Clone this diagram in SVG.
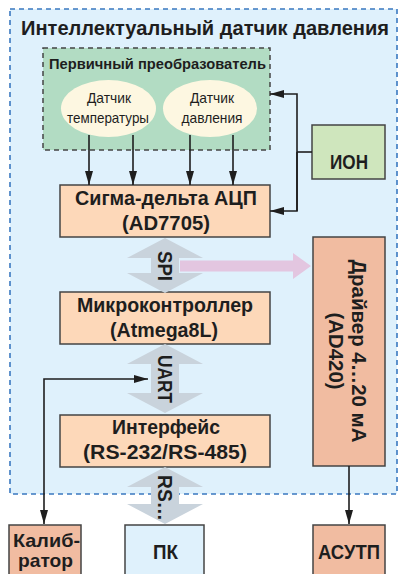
<svg xmlns="http://www.w3.org/2000/svg" width="398" height="574" viewBox="0 0 398 574">
<defs>
<marker id="ah" viewBox="0 0 14 8" refX="14" refY="4" markerWidth="14" markerHeight="8" markerUnits="userSpaceOnUse" orient="auto-start-reverse">
<path d="M0,0 L14,4 L0,8 Z" fill="#1e1e1e"/>
</marker>
<style>
.t{font-family:"Liberation Sans",Arial,sans-serif;fill:#1e1e1e;}
.b{font-weight:bold;}
.box{stroke:#444;stroke-width:1.5;}
.peach{fill:#fdd8b9;}
.salmon{fill:#f1bca1;}
.ln{fill:none;stroke:#1e1e1e;stroke-width:1.6;}
.gray{fill:#c9d3dc;}
</style>
</defs>
<rect width="398" height="574" fill="#ffffff"/>
<g id="outer">
<rect x="10" y="9" width="387" height="485" fill="#dff1fc" stroke="#3a78c0" stroke-width="1.6" stroke-dasharray="5 4"/>
<text class="t b" x="205" y="35" font-size="19.5" text-anchor="middle" textLength="368" lengthAdjust="spacingAndGlyphs">Интеллектуальный датчик давления</text>
</g>
<g id="primary">
<rect x="43" y="48" width="227" height="102" fill="#b2dcc3" stroke="#444" stroke-width="1.5" stroke-dasharray="5 4"/>
<text class="t b" x="157.5" y="69" font-size="15" text-anchor="middle" textLength="217" lengthAdjust="spacingAndGlyphs">Первичный преобразователь</text>
</g>
<g id="temp-sensor">
<ellipse cx="108.5" cy="108.5" rx="47.5" ry="28.5" fill="#fdf7e1"/>
<text class="t" x="109" y="103" font-size="14.5" text-anchor="middle" textLength="44" lengthAdjust="spacingAndGlyphs">Датчик</text>
<text class="t" x="108" y="123" font-size="14.5" text-anchor="middle" textLength="82" lengthAdjust="spacingAndGlyphs">температуры</text>
</g>
<g id="pressure-sensor">
<ellipse cx="210" cy="108.5" rx="47" ry="28.5" fill="#fdf7e1"/>
<text class="t" x="212" y="103" font-size="14.5" text-anchor="middle" textLength="44" lengthAdjust="spacingAndGlyphs">Датчик</text>
<text class="t" x="212" y="123" font-size="14.5" text-anchor="middle" textLength="61" lengthAdjust="spacingAndGlyphs">давления</text>
</g>
<g id="adc">
<rect class="box peach" x="60" y="185" width="210" height="52"/>
<text class="t b" x="166" y="205" font-size="20.5" text-anchor="middle" textLength="182" lengthAdjust="spacingAndGlyphs">Сигма-дельта АЦП</text>
<text class="t b" x="166" y="230" font-size="20.5" text-anchor="middle" textLength="88" lengthAdjust="spacingAndGlyphs">(AD7705)</text>
</g>
<g id="ion">
<rect class="box" x="312" y="125" width="73" height="54" fill="#cfe6bd"/>
<text class="t b" x="349" y="169" font-size="20.5" text-anchor="middle" textLength="38" lengthAdjust="spacingAndGlyphs">ИОН</text>
</g>
<g id="mcu">
<rect class="box peach" x="60" y="292" width="210" height="52"/>
<text class="t b" x="165" y="312" font-size="20.5" text-anchor="middle" textLength="176" lengthAdjust="spacingAndGlyphs">Микроконтроллер</text>
<text class="t b" x="164" y="337" font-size="20.5" text-anchor="middle" textLength="108" lengthAdjust="spacingAndGlyphs">(Atmega8L)</text>
</g>
<g id="interface">
<rect class="box peach" x="60" y="415" width="210" height="52"/>
<text class="t b" x="166" y="434" font-size="20.5" text-anchor="middle" textLength="108" lengthAdjust="spacingAndGlyphs">Интерфейс</text>
<text class="t b" x="165" y="459" font-size="20.5" text-anchor="middle" textLength="164" lengthAdjust="spacingAndGlyphs">(RS-232/RS-485)</text>
</g>
<g id="driver">
<rect class="box salmon" x="313" y="237" width="72" height="229"/>
<text class="t b" font-size="20.5" text-anchor="middle" transform="translate(352,351) rotate(90)" textLength="183" lengthAdjust="spacingAndGlyphs">Драйвер 4…20 мА</text>
<text class="t b" font-size="20.5" text-anchor="middle" transform="translate(329,351) rotate(90)" textLength="77" lengthAdjust="spacingAndGlyphs">(AD420)</text>
</g>
<g id="calibrator">
<rect class="box salmon" x="9" y="525" width="72" height="60"/>
<text class="t b" x="46.5" y="546.5" font-size="18.5" text-anchor="middle" textLength="67" lengthAdjust="spacingAndGlyphs">Калиб-</text>
<text class="t b" x="45.5" y="567" font-size="18.5" text-anchor="middle" textLength="55" lengthAdjust="spacingAndGlyphs">ратор</text>
</g>
<g id="pc">
<rect class="box" x="125" y="525" width="79" height="60" fill="#dff1fc"/>
<text class="t b" x="165.5" y="559" font-size="20.5" text-anchor="middle" textLength="25" lengthAdjust="spacingAndGlyphs">ПК</text>
</g>
<g id="asutp">
<rect class="box salmon" x="313" y="525" width="72" height="60"/>
<text class="t b" x="349" y="559" font-size="20.5" text-anchor="middle" textLength="62" lengthAdjust="spacingAndGlyphs">АСУТП</text>
</g>
<g id="connectors">
<path class="ln" d="M89,135 V185" marker-end="url(#ah)"/>
<path class="ln" d="M133,135 V185" marker-end="url(#ah)"/>
<path class="ln" d="M190,135 V185" marker-end="url(#ah)"/>
<path class="ln" d="M233,135 V185" marker-end="url(#ah)"/>
<path class="ln" d="M312,152 H297"/>
<path class="ln" d="M297,211 V94 H270" marker-end="url(#ah)"/>
<path class="ln" d="M297,152 V211 H270" marker-end="url(#ah)"/>
<path class="ln" d="M148,379 H44 V524" marker-start="url(#ah)" marker-end="url(#ah)"/>
<path class="ln" d="M349,466 V524" marker-end="url(#ah)"/>
<polygon points="180,260.5 293,260.5 293,253 311,266 293,279 293,271.5 180,271.5" fill="#e3c6e0"/>
<polygon class="gray" points="165,238 203,258 179,258 179,273 203,273 165,293 127,273 151,273 151,258 127,258"/>
<polygon class="gray" points="165,344 203,364 179,364 179,393 203,393 165,413 127,393 151,393 151,364 127,364"/>
<polygon class="gray" points="165,467 203,487 179,487 179,504 203,504 165,524 127,504 151,504 151,487 127,487"/>
<text class="t b" font-size="20" text-anchor="middle" transform="translate(158,266) rotate(90)" textLength="30" lengthAdjust="spacingAndGlyphs">SPI</text>
<text class="t b" font-size="20" text-anchor="middle" transform="translate(158,379) rotate(90)" textLength="48" lengthAdjust="spacingAndGlyphs">UART</text>
<text class="t b" font-size="20" text-anchor="middle" transform="translate(158,498) rotate(90)" textLength="46" lengthAdjust="spacingAndGlyphs">RS…</text>
</g>
</svg>
